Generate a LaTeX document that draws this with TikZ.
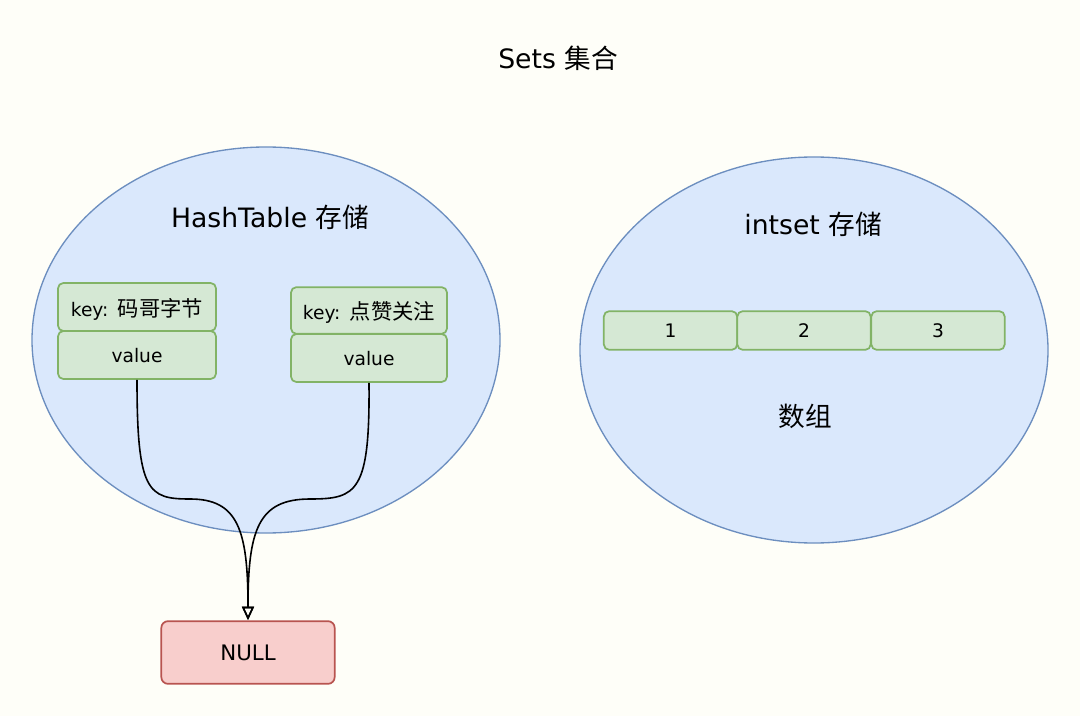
\documentclass[tikz,border=0pt]{standalone}
\usepackage{fontspec}
\setmainfont{DejaVu Sans}
\newfontfamily\cjk{Noto Sans CJK SC}
\usetikzlibrary{arrows.meta}
\definecolor{bgc}{HTML}{FEFEF8}
\definecolor{blfill}{HTML}{DAE8FC}
\definecolor{blline}{HTML}{6C8EBF}
\definecolor{grfill}{HTML}{D5E8D4}
\definecolor{grline}{HTML}{82B366}
\definecolor{rdfill}{HTML}{F8CECC}
\definecolor{rdline}{HTML}{B85450}
\tikzset{
  cloud/.style={draw=blline, fill=blfill, line width=1pt},
  gbox/.style={draw=grline, fill=grfill, line width=1.3pt, rounded corners=4pt, inner sep=0pt, text depth=-3pt, font=\fontsize{14}{16}\selectfont},
  rbox/.style={draw=rdline, fill=rdfill, line width=1.3pt, rounded corners=5pt, inner sep=0pt, text depth=-3pt, font=\fontsize{16}{18}\selectfont},
  lbl/.style={inner sep=0pt, font=\fontsize{20}{24}\selectfont},
  link/.style={draw=black, line width=1.2pt, -{Triangle[open,length=10pt,width=9pt]}}
}
\begin{document}
\begin{tikzpicture}[x=0.75pt,y=-0.75pt]
\fill[bgc] (0,0) rectangle (1080,716);
\useasboundingbox (0,0) rectangle (1080,716);
\node[lbl] (title) at (558,58) {Sets {\cjk 集合}};
\draw[cloud] (266,340) ellipse [x radius=234, y radius=193];
\draw[cloud] (814,350) ellipse [x radius=234, y radius=193];
\node[lbl] (ht) at (270,217) {HashTable {\cjk 存储}};
\node[lbl] (is) at (813,224) {intset {\cjk 存储}};
\node[lbl] (arr) at (805,416) {\cjk 数组};
% left entries
\node[gbox, minimum width=118.5pt, minimum height=36pt] (k1) at (137,307) {key:\hspace{0.5em}{\cjk\fontsize{16}{18}\selectfont 码哥字节}};
\node[gbox, minimum width=118.5pt, minimum height=36pt] (v1) at (137,355) {value};
\node[gbox, minimum width=117pt, minimum height=35pt] (k2) at (369,310.5) {key:\hspace{0.5em}{\cjk\fontsize{16}{18}\selectfont 点赞关注}};
\node[gbox, minimum width=117pt, minimum height=36pt] (v2) at (369,358) {value};
% array
\node[gbox, minimum width=100pt, minimum height=29pt] (a1) at (670.5,330.5) {1};
\node[gbox, minimum width=100pt, minimum height=29pt] (a2) at (804,330.5) {2};
\node[gbox, minimum width=100pt, minimum height=29pt] (a3) at (938,330.5) {3};
% NULL
\node[rbox, minimum width=130pt, minimum height=47pt] (null) at (248,652.5) {NULL};
\coordinate (nt) at (248,620);
\draw[link] (v1.south) .. controls (137,492) and (148,499) .. (190,499) .. controls (238,499) and (248,530) .. (nt);
\draw[link] (v2.south) .. controls (370,492) and (357,499) .. (310,499) .. controls (258,499) and (248,530) .. (nt);
\end{tikzpicture}
\end{document}
